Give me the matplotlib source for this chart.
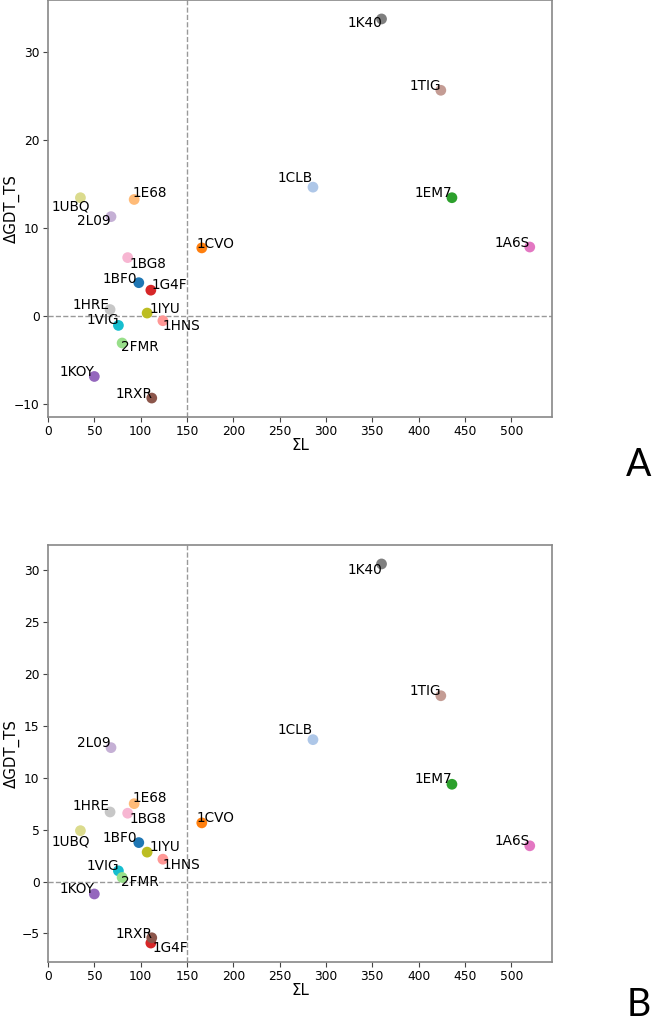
import matplotlib
matplotlib.use("Agg")
import matplotlib.pyplot as plt

# ---------------- data ----------------
proteins = ["1UBQ", "1E68", "2L09", "1CVO", "1BG8", "1BF0", "1G4F", "1HRE", "1IYU",
            "1HNS", "1VIG", "2FMR", "1KOY", "1RXR", "1CLB", "1K40", "1TIG", "1EM7", "1A6S"]
sum_L = [35, 93, 68, 166, 86, 98, 111, 67, 107,
         124, 76, 80, 50, 112, 286, 360, 424, 436, 520]
dgdt_A = [13.4, 13.2, 11.25, 7.7, 6.6, 3.75, 2.9, 0.7, 0.3,
          -0.57, -1.1, -3.1, -6.9, -9.35, 14.6, 33.7, 25.6, 13.4, 7.8]
dgdt_B = [4.9, 7.5, 12.9, 5.65, 6.58, 3.75, -5.93, 6.7, 2.83,
          2.15, 1.03, 0.39, -1.2, -5.42, 13.67, 30.6, 17.9, 9.37, 3.44]

# ---------------- style / layout ----------------
colors = {
    "1BF0": "#1f77b4", "1CLB": "#aec7e8", "1CVO": "#ff7f0e", "1E68": "#ffbb78",
    "1EM7": "#2ca02c", "2FMR": "#98df8a", "1G4F": "#d62728", "1HNS": "#ff9896",
    "1KOY": "#9467bd", "2L09": "#c5b0d5", "1RXR": "#8c564b", "1TIG": "#c49c94",
    "1A6S": "#e377c2", "1BG8": "#f7b6d2", "1K40": "#7f7f7f", "1HRE": "#c7c7c7",
    "1IYU": "#bcbd22", "1UBQ": "#dbdb8d", "1VIG": "#17becf",
}
# label offsets in pixels (dx right, dy down)
off_A = {
    "1UBQ": (-10, 9), "1E68": (16, -6), "2L09": (-17, 4), "1CVO": (14, -4),
    "1BG8": (20, 6), "1BF0": (-19, -4), "1G4F": (19, -5), "1HRE": (-19, -5),
    "1IYU": (18, -4), "1HNS": (19, 5), "1VIG": (-16, -5), "2FMR": (18, 4),
    "1KOY": (-17, -4), "1RXR": (-18, -4), "1CLB": (-18, -9), "1K40": (-17, 4),
    "1TIG": (-16, -4), "1EM7": (-19, -5), "1A6S": (-18, -4),
}
off_B = {
    "1UBQ": (-10, 11), "1E68": (16, -6), "2L09": (-17, -5), "1CVO": (14, -5),
    "1BG8": (20, 6), "1BF0": (-19, -5), "1G4F": (20, 5), "1HRE": (-19, -6),
    "1IYU": (18, -5), "1HNS": (19, 6), "1VIG": (-16, -5), "2FMR": (18, 5),
    "1KOY": (-17, -5), "1RXR": (-18, -4), "1CLB": (-18, -10), "1K40": (-17, 6),
    "1TIG": (-16, -5), "1EM7": (-19, -5), "1A6S": (-18, -5),
}

W, H = 652, 1022
fig = plt.figure(figsize=(W / 100, H / 100), dpi=100)


def panel(rect_px, yvals, offsets, letter, letter_xy):
    l, t, r, b = rect_px
    ax = fig.add_axes([l / W, 1 - b / H, (r - l) / W, (b - t) / H])
    cols = [colors[p] for p in proteins]
    ax.scatter(sum_L, yvals, c=cols, s=60, edgecolors="none", zorder=3)
    ax.axvline(150, color="#999999", ls="--", lw=1.0, zorder=1)
    ax.axhline(0, color="#999999", ls="--", lw=1.0, zorder=1)
    for p, x, y in zip(proteins, sum_L, yvals):
        dx, dy = offsets[p]
        ax.annotate(p, (x, y), xytext=(dx, -dy), textcoords="offset pixels",
                    ha="center", va="center", fontsize=9.8, color="black", zorder=4)
    ax.set_xlim(0, 544)
    ymin, ymax = min(yvals), max(yvals)
    pad = 0.05 * (ymax - ymin)
    ax.set_ylim(ymin - pad, ymax + pad)
    ax.set_xticks(range(0, 501, 50))
    ax.tick_params(labelsize=8.8, color="#444444", pad=2.5)
    for s in ax.spines.values():
        s.set_color("#888888")
        s.set_linewidth(1.2)
    ax.set_xlabel("ΣL", fontsize=10.8)
    ax.set_ylabel("ΔGDT_TS", fontsize=10.8)
    ax.xaxis.set_label_coords(0.5, -21.0 / (b - t))
    ax.yaxis.set_label_coords(-28 / (r - l), 0.5)
    fig.text(letter_xy[0] / W, 1 - letter_xy[1] / H, letter, fontsize=27,
             family=["Lato", "DejaVu Sans"], fontweight="normal",
             ha="right", va="baseline")
    return ax


panel((48, 0, 552, 417), dgdt_A, off_A, "A", (651, 476))
panel((48, 545, 552, 962), dgdt_B, off_B, "B", (651, 1016))

fig.savefig("out.png", dpi=100)
